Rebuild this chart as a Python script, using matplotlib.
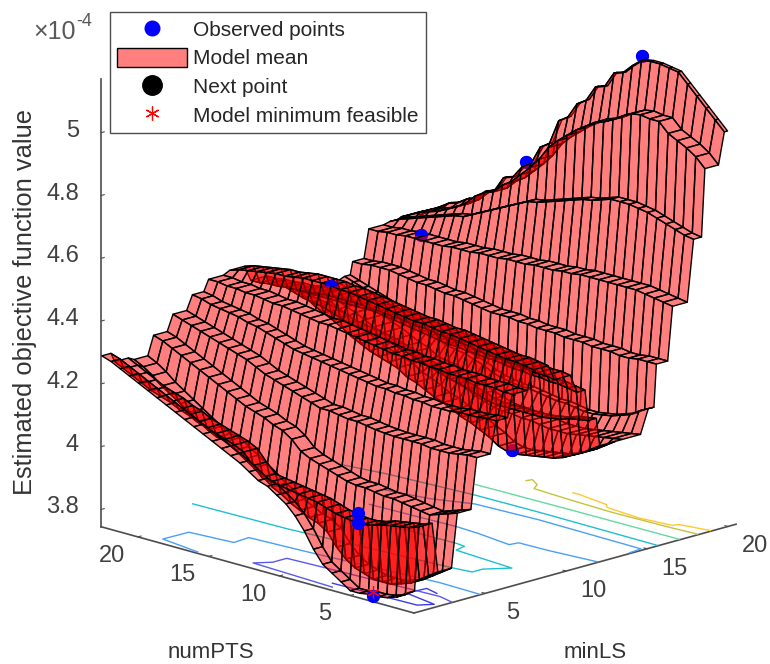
"""Model mean surface with observed points, floor contours and legend."""

import numpy as np
import matplotlib
matplotlib.use("Agg")
import matplotlib.pyplot as plt
from matplotlib.lines import Line2D
from matplotlib.patches import Patch
from mpl_toolkits.mplot3d import proj3d

plt.rcParams["font.family"] = ["Liberation Sans", "DejaVu Sans"]

# axis ranges and ticks
minls_lim = (0.6, 20.5)
numpts_lim = (0.5, 22.6)
z_lim = (3.745, 5.17)
ls_ticks = [5, 10, 15, 20]
pts_ticks = [5, 10, 15, 20]
z_ticks = [3.8, 4, 4.2, 4.4, 4.6, 4.8, 5]
z_tick_labels = ["3.8", "4", "4.2", "4.4", "4.6", "4.8", "5"]

# surface rows (terraces along minLS), in units of 1e-4
minls_rows = [0.6, 1.4, 2.6, 3.8, 5.0, 6.2, 7.2, 8.5, 9.8, 11.2, 11.9, 12.6, 14.0, 15.6, 16.1, 17.1, 18.4, 19.1, 20.3]
numpts_cols = [1.1, 1.75, 2.4, 3.05, 3.7, 4.35, 5.0, 5.65, 6.3, 6.95, 7.6, 8.25, 8.9, 9.55, 10.2, 10.85, 11.5,
               12.15, 12.8, 13.45, 14.1, 14.75, 15.4, 16.05, 16.7, 17.35, 18.0, 18.65, 19.3, 19.95, 20.6, 21.25, 21.9, 22.55]
z_a = [3.80, 3.78, 3.77, 3.765, 3.765, 3.76, 3.76, 3.78, 3.80, 3.82, 3.86, 3.91, 3.95, 3.98, 4.0, 4.02, 4.03, 4.05, 4.07, 4.085, 4.10, 4.115, 4.13, 4.145, 4.16, 4.175, 4.19, 4.205, 4.22, 4.235, 4.25, 4.265, 4.28, 4.29]
z_b = [4.00, 3.99, 3.985, 3.98, 3.975, 3.965, 3.96, 3.96, 3.965, 3.97, 3.98, 3.99, 3.995, 4.0, 4.005, 4.01, 4.015, 4.02, 4.05, 4.085, 4.10, 4.11, 4.12, 4.13, 4.14, 4.155, 4.165, 4.18, 4.19, 4.20, 4.215, 4.23, 4.245, 4.26]
z_c = [3.84, 3.82, 3.80, 3.78, 3.77, 3.76, 3.76, 3.76, 3.77, 3.78, 3.80, 3.83, 3.87, 3.89, 3.90, 3.915, 3.93, 3.95, 3.965, 3.99, 4.01, 4.03, 4.05, 4.07, 4.075, 4.09, 4.11, 4.13, 4.15, 4.17, 4.19, 4.215, 4.235, 4.25]
z_d = [4.01, 4.0, 3.99, 3.98, 3.985, 3.99, 3.995, 4.0, 4.0, 4.005, 4.01, 4.01, 4.015, 4.025, 4.035, 4.045, 4.055, 4.07, 4.10, 4.12, 4.13, 4.145, 4.155, 4.165, 4.18, 4.195, 4.21, 4.225, 4.24, 4.255, 4.27, 4.285, 4.30, 4.31]
z_e = [4.17, 4.17, 4.165, 4.16, 4.16, 4.16, 4.165, 4.165, 4.165, 4.165, 4.167, 4.17, 4.175, 4.18, 4.18, 4.185, 4.19, 4.19, 4.20, 4.21, 4.22, 4.23, 4.24, 4.25, 4.265, 4.28, 4.29, 4.30, 4.31, 4.32, 4.33, 4.34, 4.35, 4.36]
z_f = [4.27, 4.27, 4.265, 4.265, 4.265, 4.26, 4.26, 4.26, 4.265, 4.265, 4.27, 4.27, 4.275, 4.275, 4.28, 4.285, 4.29, 4.295, 4.30, 4.305, 4.31, 4.315, 4.32, 4.33, 4.34, 4.35, 4.36, 4.365, 4.375, 4.38, 4.385, 4.39, 4.40, 4.405]
z_g = [4.34, 4.34, 4.345, 4.345, 4.345, 4.35, 4.35, 4.35, 4.355, 4.355, 4.36, 4.36, 4.365, 4.365, 4.37, 4.375, 4.38, 4.385, 4.39, 4.395, 4.40, 4.40, 4.405, 4.41, 4.415, 4.42, 4.42, 4.425, 4.43, 4.43, 4.435, 4.435, 4.44, 4.44]
z_h = [4.40, 4.405, 4.41, 4.41, 4.415, 4.42, 4.425, 4.43, 4.435, 4.44, 4.44, 4.445, 4.45, 4.45, 4.455, 4.46, 4.465, 4.47, 4.475, 4.48, 4.485, 4.485, 4.49, 4.49, 4.49, 4.49, 4.485, 4.48, 4.48, 4.475, 4.47, 4.465, 4.46, 4.45]
z_i = [4.35, 4.355, 4.355, 4.36, 4.365, 4.365, 4.37, 4.37, 4.375, 4.38, 4.385, 4.39, 4.39, 4.395, 4.40, 4.40, 4.405, 4.41, 4.41, 4.415, 4.415, 4.42, 4.42, 4.42, 4.42, 4.42, 4.415, 4.415, 4.41, 4.41, 4.405, 4.405, 4.40, 4.40]
z_j = [4.29, 4.295, 4.30, 4.30, 4.305, 4.305, 4.31, 4.31, 4.315, 4.32, 4.32, 4.325, 4.325, 4.33, 4.33, 4.335, 4.34, 4.345, 4.35, 4.355, 4.36, 4.365, 4.37, 4.37, 4.37, 4.37, 4.37, 4.37, 4.37, 4.37, 4.37, 4.37, 4.37, 4.37]
z_ja = [4.19, 4.185, 4.18, 4.17, 4.165, 4.16, 4.16, 4.16, 4.16, 4.16, 4.16, 4.165, 4.175, 4.185, 4.195, 4.20, 4.21, 4.22, 4.23, 4.24, 4.25, 4.26, 4.27, 4.275, 4.28, 4.285, 4.29, 4.30, 4.31, 4.32, 4.325, 4.33, 4.34, 4.35]
z_k = [4.10, 4.08, 4.06, 4.045, 4.03, 4.02, 4.015, 4.01, 4.005, 4.0, 4.0, 4.01, 4.03, 4.045, 4.06, 4.07, 4.085, 4.10, 4.11, 4.125, 4.14, 4.15, 4.17, 4.18, 4.19, 4.20, 4.215, 4.23, 4.25, 4.265, 4.28, 4.295, 4.315, 4.33]
z_l = [4.10, 4.095, 4.09, 4.085, 4.08, 4.075, 4.07, 4.07, 4.07, 4.075, 4.08, 4.08, 4.085, 4.085, 4.09, 4.10, 4.11, 4.125, 4.135, 4.15, 4.16, 4.165, 4.17, 4.19, 4.20, 4.215, 4.23, 4.24, 4.255, 4.27, 4.28, 4.295, 4.31, 4.32]
z_m = [4.175, 4.16, 4.14, 4.13, 4.12, 4.115, 4.11, 4.11, 4.115, 4.12, 4.12, 4.125, 4.13, 4.135, 4.135, 4.14, 4.145, 4.155, 4.17, 4.18, 4.19, 4.195, 4.20, 4.215, 4.23, 4.24, 4.255, 4.27, 4.28, 4.29, 4.30, 4.31, 4.32, 4.33]
z_n = [4.31, 4.31, 4.31, 4.305, 4.305, 4.31, 4.31, 4.31, 4.315, 4.315, 4.315, 4.32, 4.32, 4.32, 4.325, 4.325, 4.33, 4.33, 4.33, 4.335, 4.34, 4.345, 4.35, 4.35, 4.355, 4.36, 4.36, 4.365, 4.37, 4.375, 4.375, 4.375, 4.37, 4.37]
z_o = [4.48, 4.485, 4.49, 4.495, 4.50, 4.50, 4.50, 4.50, 4.50, 4.50, 4.50, 4.495, 4.495, 4.49, 4.49, 4.49, 4.485, 4.485, 4.485, 4.48, 4.48, 4.48, 4.475, 4.475, 4.475, 4.47, 4.47, 4.47, 4.47, 4.47, 4.465, 4.465, 4.46, 4.46]
z_p = [4.675, 4.68, 4.69, 4.70, 4.71, 4.72, 4.725, 4.73, 4.73, 4.73, 4.72, 4.71, 4.705, 4.695, 4.685, 4.675, 4.665, 4.655, 4.65, 4.635, 4.62, 4.605, 4.59, 4.575, 4.56, 4.545, 4.54, 4.53, 4.52, 4.51, 4.50, 4.49, 4.48, 4.465]
z_q = [4.89, 4.92, 4.94, 4.955, 4.97, 5.0, 5.0, 5.005, 5.0, 4.985, 4.965, 4.95, 4.94, 4.92, 4.90, 4.875, 4.85, 4.82, 4.775, 4.74, 4.71, 4.68, 4.66, 4.63, 4.62, 4.60, 4.57, 4.55, 4.535, 4.52, 4.51, 4.50, 4.485, 4.47]
z_r = [4.99, 5.02, 5.05, 5.08, 5.11, 5.14, 5.145, 5.15, 5.15, 5.145, 5.12, 5.09, 5.08, 5.03, 5.02, 4.97, 4.95, 4.90, 4.88, 4.80, 4.78, 4.72, 4.70, 4.66, 4.65, 4.60, 4.59, 4.56, 4.55, 4.53, 4.52, 4.50, 4.48, 4.46]
z_rows = [z_a, z_b, z_c, z_d, z_e, z_f, z_g, z_h, z_i, z_j, z_ja, z_k, z_l, z_m, z_n, z_o, z_p, z_q, z_r]

# observed points partly hidden by the surface: upper half stays clear, or lower half
obs_top_ls = [20.3, 20.3, 17.1, 8.5]
obs_top_pts = [6.9, 15.1, 18.9, 15.4]
obs_top_z = [5.16, 4.72, 4.485, 4.49]
obs_low_ls = [12.6]
obs_low_pts = [7.3]
obs_low_z = [4.01]
obs_front_ls = [1.4, 1.4, 1.1]
obs_front_pts = [5.4, 5.4, 4.0]
obs_front_z = [3.99, 3.96, 3.75]
min_ls, min_pts, min_z = [1.1], [4.0], [3.76]

# floor contours as (minLS, numPTS) vertices
contours = [
    ("#ffc832", [19.0, 19.0, 18.7, 18.4, 18.2, 18.4, 18.7, 19.0], [10.3, 9.9, 7.6, 7.2, 4.8, 2.6, 2.5, 0.6]),
    ("#c4c43c", [18.9, 19.2, 18.8, 18.25, 18.1, 18.0, 18.1, 18.2], [13.5, 13.4, 12.6, 12.2, 9.4, 6.4, 2.4, 0.6]),
    ("#66d9a0", [16.9, 17.0, 17.06], [14.8, 8.1, 0.6]),
    ("#1ec0d0", [15.0, 15.35, 15.7, 15.76, 15.7], [22.0, 19.3, 13.5, 9.0, 0.6]),
    ("#4aa0f5", [13.5, 13.9, 14.7, 14.9, 14.8, 14.0], [17.3, 14.6, 12.35, 8.0, 0.7, 0.6]),
    ("#4aa0f5", [11.4, 11.6, 11.5, 11.2, 11.7, 11.76, 12.0], [16.0, 10.06, 8.4, 5.9, 5.8, 3.74, 0.6]),
    ("#1ec0d0", [6.0, 6.12, 6.85, 7.0, 7.64, 8.66, 8.95, 9.64, 9.72, 9.6], [22.3, 15.8, 4.9, 3.7, 3.7, 2.8, 7.06, 7.27, 7.94, 14.0]),
    ("#4aa0f5", [0.76, 1.13, 2.7, 2.94, 3.95, 4.17, 4.8, 4.73], [15.95, 18.85, 18.8, 15.9, 16.0, 11.9, 3.5, 0.6]),
    ("#5a5af0", [3.0, 3.25, 2.93, 2.8, 1.92, 1.24, 0.98], [0.6, 1.7, 9.3, 12.0, 12.0, 12.6, 6.7]),
    ("#3c3ce6", [1.42, 1.58, 2.2, 2.6, 3.75, 3.5], [7.2, 1.4, 0.9, 3.3, 3.2, 2.2]),
]

# pixel targets for the near floor corner and the top of the z axis
near_corner_px = (414, 664 - 613)
z_top_px = (100, 664 - 80)

fig = plt.figure(figsize=(7.7, 6.64), dpi=100)
ax = fig.add_axes([0, 0, 1, 1], projection="3d", proj_type="ortho")
ax.computed_zorder = False
ax.view_init(elev=16, azim=-135)
ax.set_xlim(*minls_lim)
ax.set_ylim(*numpts_lim)
ax.set_zlim(*z_lim)
box = (457, 444, 467)
ax.set_box_aspect(box)

# every row is a flat terrace followed by a steep wall to the next row
rows = np.array(minls_rows)
terrace_end = np.append(rows[:-1] + 0.7 * np.diff(rows), minls_lim[1])
x_edges = np.column_stack([rows, terrace_end]).ravel()
zz = np.repeat(np.array(z_rows), 2, axis=0)
X, Y = np.meshgrid(x_edges, np.array(numpts_cols), indexing="ij")

for color, ls_vals, pts_vals in contours:
    ax.plot(ls_vals, pts_vals, zs=z_lim[0], color=color, lw=1.0, zorder=1)

dot = dict(ls="none", marker="o", ms=9.5, color="#0000ff", markeredgewidth=0)
ax.plot(obs_top_ls, obs_top_pts, obs_top_z, zorder=1.5, **dot)
ax.plot(obs_low_ls, obs_low_pts, obs_low_z, zorder=1.5, **dot)
ax.plot_surface(X, Y, zz, rstride=1, cstride=1, color=(1, 0, 0, 0.5), edgecolor="k", linewidth=1.0,
                shade=False, zorder=2)
ax.plot(obs_top_ls, obs_top_pts, obs_top_z, zorder=3, fillstyle="top", markerfacecoloralt="none", **dot)
ax.plot(obs_low_ls, obs_low_pts, obs_low_z, zorder=3, fillstyle="bottom", markerfacecoloralt="none", **dot)
ax.plot(obs_front_ls, obs_front_pts, obs_front_z, zorder=3, **dot)
ax.plot(min_ls, min_pts, min_z, ls="none", marker=(6, 2, 0), ms=9, mew=0.9, color="r", zorder=4)

ax.grid(False)
for axis in (ax.xaxis, ax.yaxis, ax.zaxis):
    axis.set_pane_color((1, 1, 1, 0))
    axis.pane.set_edgecolor((1, 1, 1, 0))
    axis.line.set_color("0.3")
    axis.line.set_linewidth(1.2)
    axis._axinfo["tick"]["inward_factor"] = 0.0
    axis._axinfo["tick"]["outward_factor"] = 0.12
ax.set_xticks(ls_ticks)
ax.set_yticks(pts_ticks)
ax.set_zticks(z_ticks)
ax.tick_params(axis="both", labelleft=False, labelbottom=False, color="0.3")
ax.set_xticklabels([])
ax.set_yticklabels([])
ax.set_zticklabels([])
ax.zaxis.set_ticks_position("upper")

# place the axes so the box lands on the reference pixels
def to_px(x, y, z):
    px, py, _ = proj3d.proj_transform(x, y, z, ax.get_proj())
    return ax.transData.transform((px, py))

zoom = 1.0
for _ in range(3):
    fig.canvas.draw()
    p0 = to_px(minls_lim[0], numpts_lim[0], z_lim[0])
    p1 = to_px(minls_lim[0], numpts_lim[1], z_lim[1])
    zoom *= np.hypot(near_corner_px[0] - z_top_px[0], near_corner_px[1] - z_top_px[1]) / np.hypot(*(p0 - p1))
    ax.set_box_aspect(box, zoom=zoom)
    fig.canvas.draw()
    p0 = to_px(minls_lim[0], numpts_lim[0], z_lim[0])
    pos = ax.get_position(original=True)
    ax.set_position([pos.x0 + (near_corner_px[0] - p0[0]) / 770, pos.y0 + (near_corner_px[1] - p0[1]) / 664,
                     pos.width, pos.height])
fig.canvas.draw()

# tick labels hang off the projected tick positions, mplot3d only offers one pad
tick_style = dict(fontsize=17, color="0.25", va="center")
for value in ls_ticks:
    px, py = to_px(value, numpts_lim[0], z_lim[0])
    fig.text((px + 27) / 770, (py - 20) / 664, str(value), ha="center", **tick_style)
for value in pts_ticks:
    px, py = to_px(minls_lim[0], value, z_lim[0])
    fig.text((px - 26) / 770, (py - 19) / 664, str(value), ha="center", **tick_style)
for value, label in zip(z_ticks, z_tick_labels):
    px, py = to_px(minls_lim[0], numpts_lim[1], value)
    fig.text(79 / 770, (py + 2) / 664, label, ha="right", **tick_style)

fig.text(25 / 770, 1 - 302 / 664, "Estimated objective function value", rotation=90, ha="center", va="center",
         fontsize=18.4, color="0.2")
fig.text(211 / 770, 1 - 652 / 664, "numPTS", ha="center", va="center", fontsize=16, color="0.2")
fig.text(595 / 770, 1 - 652 / 664, "minLS", ha="center", va="center", fontsize=16, color="0.2")
fig.text(33 / 770, 1 - 32 / 664, "\u00d710", ha="left", va="center", fontsize=18, color="0.35")
fig.text(76 / 770, 1 - 22 / 664, "-4", ha="left", va="center", fontsize=13, color="0.35")

handles = [
    Line2D([], [], ls="none", marker="o", ms=10.5, color="#0000ff"),
    Patch(facecolor=(1, 0, 0, 0.5), edgecolor="k"),
    Line2D([], [], ls="none", marker="o", ms=14, color="k"),
    Line2D([], [], ls="none", marker=(6, 2, 0), ms=10, mew=0.9, color="r"),
]
labels = ["Observed points", "Model mean", "Next point", "Model minimum feasible"]
fig.legend(handles, labels, loc="upper left", bbox_to_anchor=(110 / 770, 1 - 12 / 664), fontsize=15,
           frameon=True, fancybox=False, framealpha=1, edgecolor="0.3", borderaxespad=0, borderpad=0.35,
           labelspacing=0.39, handlelength=3.35, handleheight=1.0, handletextpad=0.3, labelcolor="0.15")

fig.savefig("out.png", dpi=100)
plt.close(fig)
